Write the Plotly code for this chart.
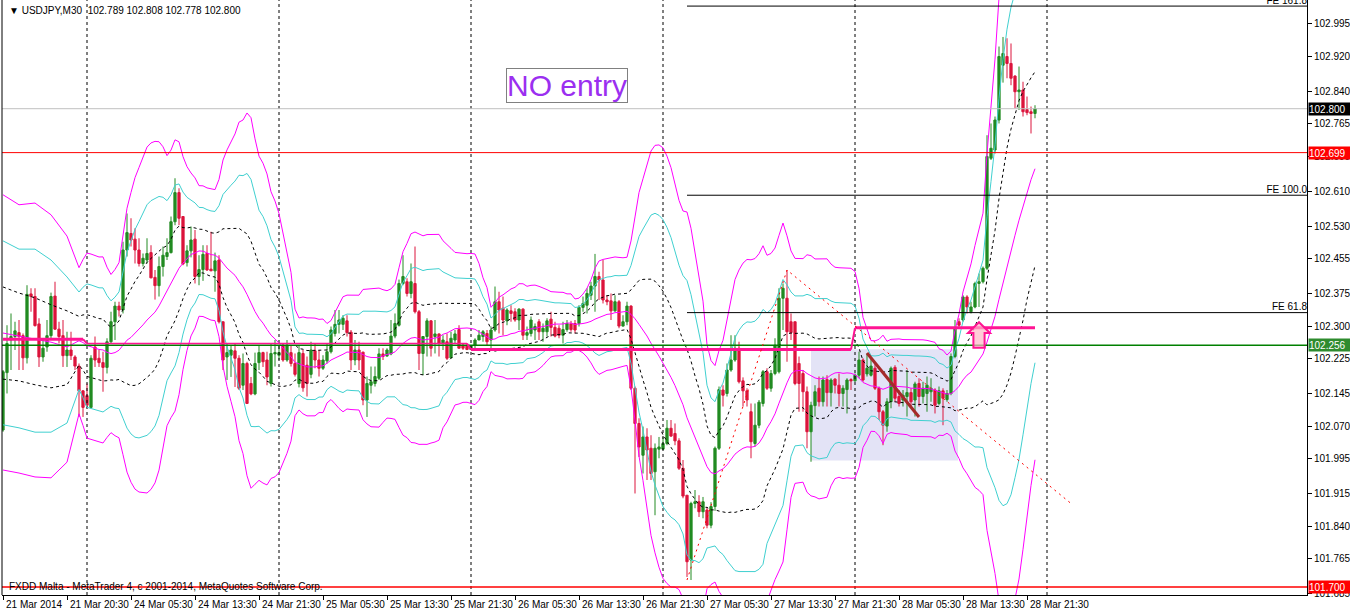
import plotly.graph_objects as go
import pandas as pd

# ---------------- OHLC data (USDJPY M30), bar index 0..258 ----------------
open_ = [102.061,102.193,102.268,102.276,102.285,102.278,102.227,102.374,102.368,102.305,
         102.229,102.252,102.278,102.369,102.293,102.278,102.232,102.245,102.229,102.208,
         102.151,102.140,102.113,102.252,102.226,102.216,102.205,102.264,102.310,102.346,
         102.337,102.475,102.513,102.500,102.475,102.444,102.452,102.469,102.412,102.393,
         102.437,102.460,102.469,102.540,102.607,102.552,102.446,102.473,102.500,102.414,
         102.430,102.467,102.431,102.427,102.452,102.310,102.229,102.233,102.243,102.226,
         102.164,102.214,102.168,102.144,102.216,102.239,102.222,102.168,102.236,102.233,
         102.256,102.222,102.239,102.214,102.168,102.237,102.210,102.189,102.243,102.222,
         102.203,102.220,102.241,102.283,102.304,102.304,102.312,102.286,102.222,102.245,
         102.240,102.130,102.164,102.168,102.180,102.236,102.231,102.236,102.277,102.302,
         102.398,102.402,102.375,102.398,102.333,102.237,102.276,102.312,102.276,102.282,
         102.260,102.264,102.227,102.268,102.292,102.256,102.256,102.246,102.256,102.268,
         102.276,102.283,102.268,102.291,102.356,102.341,102.312,102.335,102.333,102.314,
         102.339,102.279,102.283,102.291,102.310,102.287,102.287,102.316,102.297,102.295,
         102.279,102.292,102.305,102.306,102.306,102.343,102.348,102.371,102.392,102.414,
         102.406,102.360,102.358,102.335,102.356,102.300,102.310,102.346,102.157,102.076,
         102.003,102.045,102.019,101.965,102.017,102.017,102.030,102.065,102.053,102.036,
         101.973,101.911,101.762,101.892,101.896,101.873,101.877,101.842,101.885,102.019,
         102.153,102.145,102.199,102.222,102.249,102.174,102.151,102.103,102.030,102.072,
         102.122,102.195,102.157,102.191,102.195,102.364,102.364,102.310,102.310,102.214,
         102.191,102.149,102.057,102.117,102.157,102.126,102.177,102.147,102.178,102.164,
         102.145,102.154,102.177,102.174,102.187,102.222,102.190,102.187,102.203,102.157,
         102.103,102.070,102.126,102.205,102.138,102.130,102.138,102.147,102.130,102.168,
         102.138,102.145,102.149,102.153,102.122,102.151,102.131,102.145,102.230,102.310,
         102.314,102.367,102.333,102.344,102.398,102.402,102.433,102.686,102.705,102.774,
         102.900,102.920,102.904,102.875,102.839,102.843,102.798,102.793,102.789]
high  = [102.199,102.302,102.329,102.310,102.314,102.283,102.394,102.387,102.387,102.318,
         102.268,102.314,102.377,102.402,102.310,102.314,102.287,102.287,102.233,102.214,
         102.153,102.168,102.233,102.276,102.245,102.241,102.272,102.333,102.356,102.356,
         102.494,102.559,102.548,102.525,102.502,102.467,102.502,102.486,102.429,102.460,
         102.483,102.502,102.552,102.640,102.617,102.553,102.486,102.529,102.521,102.463,
         102.486,102.486,102.517,102.469,102.463,102.310,102.260,102.256,102.260,102.233,
         102.237,102.218,102.183,102.239,102.256,102.241,102.241,102.260,102.268,102.256,
         102.260,102.268,102.256,102.237,102.256,102.245,102.230,102.264,102.260,102.245,
         102.233,102.260,102.299,102.337,102.337,102.325,102.325,102.291,102.268,102.264,
         102.241,102.184,102.207,102.207,102.249,102.249,102.249,102.314,102.329,102.407,
         102.463,102.410,102.444,102.483,102.337,102.276,102.318,102.314,102.314,102.283,
         102.279,102.283,102.287,102.291,102.302,102.260,102.260,102.256,102.272,102.291,
         102.291,102.291,102.299,102.391,102.379,102.368,102.341,102.348,102.341,102.341,
         102.341,102.299,102.322,102.306,102.316,102.306,102.318,102.333,102.310,102.302,
         102.310,102.314,102.312,102.314,102.348,102.368,102.387,102.402,102.466,102.425,
         102.452,102.371,102.375,102.371,102.360,102.325,102.356,102.348,102.161,102.088,
         102.069,102.065,102.049,102.030,102.045,102.045,102.084,102.084,102.076,102.042,
         101.992,101.911,101.896,101.923,101.911,101.907,101.884,101.895,102.023,102.161,
         102.164,102.214,102.279,102.279,102.264,102.182,102.157,102.122,102.122,102.130,
         102.199,102.203,102.199,102.272,102.387,102.398,102.429,102.329,102.310,102.230,
         102.199,102.161,102.126,102.164,102.184,102.184,102.187,102.180,102.180,102.191,
         102.164,102.180,102.180,102.191,102.241,102.226,102.237,102.226,102.214,102.161,
         102.107,102.134,102.207,102.210,102.153,102.153,102.199,102.157,102.172,102.180,
         102.172,102.184,102.180,102.157,102.161,102.157,102.153,102.237,102.314,102.318,
         102.371,102.371,102.356,102.402,102.421,102.437,102.739,102.766,102.782,102.943,
         102.965,102.962,102.950,102.877,102.897,102.862,102.828,102.805,102.808]
low   = [102.057,102.145,102.199,102.245,102.199,102.199,102.214,102.333,102.299,102.206,
         102.218,102.241,102.268,102.291,102.260,102.206,102.206,102.222,102.199,102.091,
         102.091,102.111,102.111,102.206,102.206,102.149,102.191,102.260,102.268,102.322,
         102.329,102.460,102.483,102.444,102.437,102.437,102.444,102.410,102.361,102.368,
         102.414,102.452,102.467,102.532,102.532,102.440,102.437,102.458,102.398,102.394,
         102.404,102.427,102.427,102.379,102.306,102.199,102.176,102.183,102.160,102.153,
         102.153,102.122,102.141,102.141,102.199,102.206,102.164,102.161,102.207,102.222,
         102.218,102.218,102.207,102.184,102.159,102.149,102.138,102.180,102.203,102.184,
         102.199,102.214,102.237,102.276,102.283,102.291,102.276,102.199,102.210,102.199,
         102.118,102.091,102.145,102.161,102.176,102.222,102.230,102.233,102.272,102.299,
         102.394,102.368,102.364,102.329,102.199,102.187,102.230,102.230,102.237,102.230,
         102.245,102.222,102.226,102.260,102.249,102.245,102.245,102.245,102.245,102.268,
         102.264,102.256,102.249,102.287,102.283,102.279,102.302,102.310,102.310,102.291,
         102.268,102.268,102.276,102.268,102.268,102.264,102.276,102.276,102.274,102.272,
         102.260,102.287,102.287,102.283,102.299,102.333,102.329,102.360,102.333,102.360,
         102.352,102.348,102.314,102.333,102.295,102.299,102.302,102.153,101.915,101.999,
         101.961,101.946,101.946,101.865,101.996,102.015,102.026,102.045,102.026,101.969,
         101.904,101.723,101.716,101.881,101.861,101.858,101.835,101.835,101.875,102.015,
         102.115,102.138,102.195,102.218,102.168,102.115,102.115,101.996,102.023,102.065,
         102.115,102.153,102.149,102.187,102.191,102.291,102.218,102.268,102.164,102.103,
         102.103,102.019,101.988,102.092,102.115,102.115,102.115,102.115,102.145,102.115,
         102.115,102.099,102.153,102.172,102.180,102.172,102.184,102.184,102.153,102.084,
         102.026,102.057,102.111,102.126,102.115,102.115,102.092,102.115,102.092,102.115,
         102.122,102.103,102.126,102.099,102.118,102.072,102.126,102.141,102.226,102.295,
         102.310,102.329,102.329,102.341,102.344,102.398,102.429,102.682,102.697,102.766,
         102.860,102.870,102.854,102.801,102.797,102.782,102.785,102.743,102.778]
close = [102.195,102.260,102.276,102.289,102.276,102.227,102.373,102.368,102.301,102.229,
         102.249,102.278,102.368,102.293,102.276,102.232,102.245,102.232,102.208,102.151,
         102.113,102.118,102.226,102.222,102.216,102.205,102.264,102.310,102.346,102.337,
         102.475,102.515,102.498,102.475,102.444,102.456,102.467,102.411,102.393,102.437,
         102.463,102.469,102.540,102.607,102.548,102.443,102.473,102.498,102.414,102.430,
         102.465,102.429,102.427,102.450,102.310,102.222,102.239,102.245,102.226,102.157,
         102.214,102.122,102.144,102.214,102.239,102.218,102.183,102.237,102.239,102.239,
         102.222,102.256,102.214,102.189,102.239,102.158,102.168,102.245,102.222,102.203,
         102.222,102.241,102.291,102.304,102.314,102.318,102.285,102.222,102.245,102.222,
         102.130,102.168,102.172,102.184,102.236,102.230,102.245,102.277,102.306,102.398,
         102.414,102.375,102.402,102.333,102.237,102.276,102.312,102.249,102.282,102.260,
         102.268,102.226,102.272,102.282,102.249,102.249,102.246,102.254,102.268,102.279,
         102.287,102.264,102.291,102.356,102.337,102.314,102.337,102.329,102.314,102.339,
         102.279,102.285,102.314,102.299,102.287,102.295,102.312,102.297,102.277,102.279,
         102.292,102.306,102.292,102.291,102.343,102.352,102.375,102.392,102.414,102.406,
         102.360,102.356,102.335,102.356,102.300,102.310,102.346,102.157,102.076,102.022,
         102.045,102.015,101.961,102.019,102.022,102.030,102.065,102.047,102.036,101.973,
         101.909,101.758,101.892,101.896,101.873,101.896,101.842,101.885,102.019,102.154,
         102.141,102.199,102.222,102.249,102.172,102.151,102.130,102.034,102.072,102.125,
         102.195,102.157,102.191,102.256,102.364,102.387,102.287,102.285,102.168,102.168,
         102.149,102.057,102.118,102.149,102.126,102.176,102.147,102.176,102.164,102.145,
         102.157,102.176,102.174,102.187,102.222,102.176,102.203,102.208,102.157,102.103,
         102.072,102.126,102.203,102.134,102.122,102.141,102.147,102.126,102.167,102.138,
         102.157,102.164,102.157,102.118,102.151,102.134,102.145,102.230,102.295,102.302,
         102.367,102.344,102.344,102.398,102.402,102.433,102.690,102.709,102.774,102.920,
         102.927,102.904,102.870,102.839,102.843,102.793,102.791,102.789,102.800]
bars = list(range(len(close)))

# ---------------- time axis ----------------
tick_bars = [0, 16, 32, 48, 64, 80, 96, 112, 128, 144, 160, 176, 192, 208, 224, 240, 256]
tick_text = ["21 Mar 2014", "21 Mar 20:30", "24 Mar 05:30", "24 Mar 13:30", "24 Mar 21:30",
             "25 Mar 05:30", "25 Mar 13:30", "25 Mar 21:30", "26 Mar 05:30", "26 Mar 13:30",
             "26 Mar 21:30", "27 Mar 05:30", "27 Mar 13:30", "27 Mar 21:30", "28 Mar 05:30",
             "28 Mar 13:30", "28 Mar 21:30"]
day_start_bars = [21, 69, 117, 165, 213, 261]
x_range = [-0.25, 326]

# ---------------- price axis ----------------
price_ticks = [102.995, 102.920, 102.840, 102.765, 102.690, 102.610, 102.530, 102.455, 102.375,
               102.300, 102.225, 102.145, 102.070, 101.995, 101.915, 101.840, 101.765, 101.685]
y_range = [101.6815, 103.05]

# ---------------- Bollinger bands (20, 1/2/3 dev) ----------------
bb_period = 20
# band values before the first full window
warm_bars = [0, 4, 8, 12, 16]
warm_up3 = [102.602, 102.579, 102.583, 102.556, 102.507]
warm_up2 = [102.496, 102.477, 102.477, 102.452, 102.413]
warm_up1 = [102.390, 102.376, 102.365, 102.349, 102.335]
warm_mid = [102.284, 102.277, 102.270, 102.263, 102.252]
warm_dn1 = [102.178, 102.174, 102.165, 102.158, 102.165]
warm_dn2 = [102.073, 102.066, 102.056, 102.056, 102.077]
warm_dn3 = [101.969, 101.962, 101.953, 101.951, 101.987]

# ---------------- levels and objects ----------------
bid_price = 102.800
red_level = 102.699
green_level = 102.256
low_level = 101.700
pink_start = [0, 21, 117, 213]
pink_end = [20, 116, 212, 258]
pink_level = [102.270, 102.260, 102.246, 102.296]
pink_width = [3, 1.5, 3, 3]
fe_pts_bar = [171, 196, 267]
fe_pts_price = [101.716, 102.429, 101.892]
fe_levels = [102.331, 102.601, 103.036]
fe_labels = ["FE 61.8", "FE 100.0", "FE 161.8"]
trend_bars = [216, 229]
trend_prices = [102.238, 102.091]
rect_bars = [202, 238.75]
rect_prices = [101.991, 102.247]
arrow_bar = 244
arrow_tip = 102.309
arrow_base = 102.250

GREEN = "#228b22"
RED = "#dc143c"
MAG = "#ff00ff"
CYAN = "#40d0d0"
PINK = "#ff1493"
FONT = "Liberation Sans"

s = pd.Series(close)
mid = s.rolling(bb_period).mean()
sd = s.rolling(bb_period).std(ddof=0)
start = bb_period - 1
comp_bars = bars[start:]


def band(k, warm):
    vals = (mid + k * sd).tolist()[start:]
    return warm_bars + comp_bars, warm + vals


fig = go.Figure()

# day separators
for b in day_start_bars:
    fig.add_trace(go.Scatter(x=[b, b], y=y_range, mode="lines",
                             line=dict(color="black", width=1, dash="3px,3px"),
                             hoverinfo="skip"))

# candles
fig.add_trace(go.Candlestick(
    x=bars, open=open_, high=high, low=low, close=close,
    increasing=dict(line=dict(color=GREEN, width=1), fillcolor=GREEN),
    decreasing=dict(line=dict(color=RED, width=1), fillcolor=RED),
    whiskerwidth=0, showlegend=False))

# bands
for k, warm, col, dash in [(3, warm_up3, MAG, "solid"), (2, warm_up2, CYAN, "solid"),
                           (1, warm_up1, "black", "3px,3px"), (0, warm_mid, MAG, "solid"),
                           (-1, warm_dn1, "black", "3px,3px"), (-2, warm_dn2, CYAN, "solid"),
                           (-3, warm_dn3, MAG, "solid")]:
    bx, by = band(k, warm)
    fig.add_trace(go.Scatter(x=bx, y=by, mode="lines",
                             line=dict(color=col, width=1, dash=dash), hoverinfo="skip"))

# horizontal price levels
for lvl, col, w in [(bid_price, "#c0c0c0", 1), (red_level, "#ff0000", 1),
                    (green_level, "#008000", 1.5), (low_level, "#ff0000", 1.5)]:
    fig.add_trace(go.Scatter(x=x_range, y=[lvl, lvl], mode="lines",
                             line=dict(color=col, width=w), hoverinfo="skip"))

# pink daily levels (segments joined by short steps)
for j in range(len(pink_level)):
    fig.add_trace(go.Scatter(x=[pink_start[j], pink_end[j]], y=[pink_level[j]] * 2,
                             mode="lines", line=dict(color=PINK, width=pink_width[j]),
                             hoverinfo="skip"))
    if j + 1 < len(pink_level):
        fig.add_trace(go.Scatter(x=[pink_end[j], pink_start[j + 1]],
                                 y=[pink_level[j], pink_level[j + 1]], mode="lines",
                                 line=dict(color=PINK, width=2), hoverinfo="skip"))

# Fibonacci expansion
fig.add_trace(go.Scatter(x=fe_pts_bar, y=fe_pts_price, mode="lines",
                         line=dict(color="#ff0000", width=1, dash="2px,4px"), hoverinfo="skip"))
for lvl in fe_levels:
    fig.add_trace(go.Scatter(x=[fe_pts_bar[0], x_range[1]], y=[lvl, lvl], mode="lines",
                             line=dict(color="black", width=1), hoverinfo="skip"))
fig.add_trace(go.Scatter(x=[x_range[1]] * len(fe_levels), y=fe_levels, mode="text",
                         text=fe_labels, textposition="top left", cliponaxis=True,
                         textfont=dict(family=FONT, size=10, color="black"), hoverinfo="skip"))

# trend line
fig.add_trace(go.Scatter(x=trend_bars, y=trend_prices, mode="lines",
                         line=dict(color="#a52a2a", width=3), hoverinfo="skip"))

shapes = [
    dict(type="rect", xref="x", yref="y", x0=rect_bars[0], x1=rect_bars[1],
         y0=rect_prices[0], y1=rect_prices[1], fillcolor="#e3e3f6", line=dict(width=0),
         layer="below"),
    dict(type="line", xref="paper", yref="paper", x0=0, x1=0, y0=0, y1=1,
         line=dict(color="black", width=1)),
]
hw, sw, head = 2.75, 1.4, 0.025
arrow_path = (f"M{arrow_bar},{arrow_tip} L{arrow_bar - hw},{arrow_tip - head} "
              f"L{arrow_bar - sw},{arrow_tip - head} L{arrow_bar - sw},{arrow_base} "
              f"L{arrow_bar + sw},{arrow_base} L{arrow_bar + sw},{arrow_tip - head} "
              f"L{arrow_bar + hw},{arrow_tip - head} Z")
shapes.append(dict(type="path", xref="x", yref="y", path=arrow_path,
                   fillcolor="rgba(255,182,200,0.7)", line=dict(color=PINK, width=2)))

annotations = []
for b, t in zip(tick_bars, tick_text):
    annotations.append(dict(x=b, y=0, xref="x", yref="paper", text=t, showarrow=False,
                            xanchor="left", yanchor="top", xshift=1, yshift=-2,
                            font=dict(family=FONT, size=10, color="black")))
for lvl, bg in [(bid_price, "black"), (red_level, "#ff0000"), (green_level, "#2e8b2e"),
                (low_level, "#ff0000")]:
    annotations.append(dict(x=1, xref="paper", y=lvl, yref="y", text=f"{lvl:.3f}",
                            showarrow=False, xanchor="left", yanchor="middle", align="left",
                            bgcolor=bg, width=41, height=12, borderpad=0, xshift=1,
                            font=dict(family=FONT, size=10, color="white")))
annotations.append(dict(x=0, y=1, xref="paper", yref="paper", xanchor="left", yanchor="top",
                        xshift=5, yshift=-3, showarrow=False,
                        text="▼ USDJPY,M30  102.789 102.808 102.778 102.800",
                        font=dict(family=FONT, size=10, color="black")))
annotations.append(dict(x=0, y=low_level, xref="paper", yref="y", xanchor="left",
                        yanchor="middle", xshift=5, showarrow=False,
                        text="FXDD Malta - MetaTrader 4, c 2001-2014, MetaQuotes Software Corp.",
                        font=dict(family=FONT, size=10, color="black")))
annotations.append(dict(x=141, y=102.853, xref="x", yref="y", showarrow=False,
                        text="NO entry", font=dict(family=FONT, size=30, color="#9b2ff0"),
                        bgcolor="white", bordercolor="#808080", borderwidth=1, borderpad=0))

fig.update_layout(
    width=1350, height=613, margin=dict(l=2, r=43, t=0, b=18, pad=0),
    plot_bgcolor="white", paper_bgcolor="white", showlegend=False,
    shapes=shapes, annotations=annotations,
    xaxis=dict(range=x_range, showgrid=False, zeroline=False, showline=True,
               linecolor="black", linewidth=1, ticks="outside", ticklen=4, tickcolor="black",
               tickvals=tick_bars, showticklabels=False, rangeslider=dict(visible=False),
               fixedrange=True),
    yaxis=dict(side="right", range=y_range, tickvals=price_ticks,
               ticktext=[f"{v:.3f}" for v in price_ticks], ticks="outside", ticklen=4,
               tickcolor="black", showline=True, linecolor="black", linewidth=1,
               showgrid=False, zeroline=False, automargin=False,
               tickfont=dict(family=FONT, size=10, color="black")),
    boxgap=0.2,
)

fig.write_html("out.html", config={"displayModeBar": False},
               post_script="document.body.style.margin='0';")
